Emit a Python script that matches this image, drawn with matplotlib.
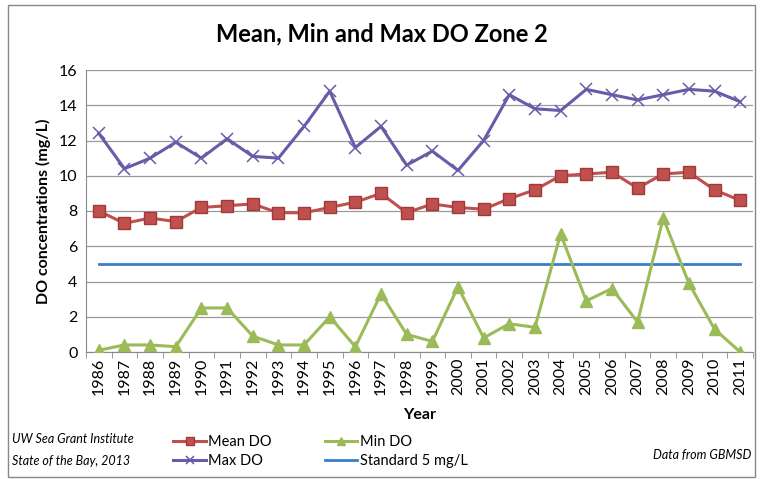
import matplotlib.pyplot as plt
from matplotlib.patches import Rectangle
import numpy as np

years = [str(y) for y in range(1986, 2012)]
mean_do = [8.0, 7.3, 7.6, 7.4, 8.2, 8.3, 8.4, 7.9, 7.9, 8.2, 8.5, 9.0, 7.9,
           8.4, 8.2, 8.1, 8.7, 9.2, 10.0, 10.1, 10.2, 9.3, 10.1, 10.2, 9.2, 8.6]
max_do = [12.4, 10.4, 11.0, 11.9, 11.0, 12.1, 11.1, 11.0, 12.8, 14.8, 11.6, 12.8, 10.6,
          11.4, 10.3, 12.0, 14.6, 13.8, 13.7, 14.9, 14.6, 14.3, 14.6, 14.9, 14.8, 14.2]
min_do = [0.1, 0.4, 0.4, 0.3, 2.5, 2.5, 0.9, 0.4, 0.4, 2.0, 0.3, 3.3, 1.0,
          0.6, 3.7, 0.8, 1.6, 1.4, 6.7, 2.9, 3.6, 1.7, 7.6, 3.9, 1.3, 0.0]
standard = [5] * len(years)

plt.rcParams['font.family'] = ['Lato', 'DejaVu Sans']

fig = plt.figure(figsize=(7.63, 4.79), dpi=100)
ax = fig.add_axes([86 / 763, 1 - 352 / 479, 667 / 763, 282 / 479])

x = np.arange(len(years))
l_mean, = ax.plot(x, mean_do, color='#C0504D', lw=2.2, marker='s', ms=8,
                  mfc='#C0504D', mec='#9E3A38', label='Mean DO', zorder=4)
l_max, = ax.plot(x, max_do, color='#6A5AA8', lw=2.2, marker='x', ms=8, mew=1.1,
                 label='Max DO', zorder=4)
l_min, = ax.plot(x, min_do, color='#9BBB59', lw=2.2, marker='^', ms=8,
                 mfc='#9BBB59', label='Min DO', zorder=4)
l_std, = ax.plot(x, standard, color='#3A7DC9', lw=2, label='Standard 5 mg/L', zorder=3)

ax.set_xlim(-0.5, len(years) - 0.5)
ax.set_ylim(0, 16)
ax.set_yticks(range(0, 17, 2))
ax.yaxis.grid(True, color='#9a9a9a', lw=0.9)
ax.set_axisbelow(True)
ax.set_xticks(x)
ax.set_xticklabels(years, rotation=90, fontsize=11.5)
ax.set_xticks(np.arange(-0.5, len(years), 1), minor=True)
ax.tick_params(axis='x', which='major', length=0, pad=4)
ax.tick_params(axis='x', which='minor', length=4, color='#888888', direction='out')
ax.tick_params(axis='y', length=0, labelsize=11.5, pad=6)
for s in ['top', 'right']:
    ax.spines[s].set_visible(False)
for s in ['left', 'bottom']:
    ax.spines[s].set_color('#888888')

ax.set_ylabel('DO concentrations (mg/L)', fontsize=11.5, fontweight='bold', labelpad=6)
ax.set_xlabel('Year', fontsize=11.5, fontweight='bold', labelpad=9)
fig.text(0.5, 0.93, 'Mean, Min and Max DO Zone 2', ha='center', va='center',
         fontsize=17, fontweight='bold')

fig.legend(handles=[l_mean, l_max, l_min, l_std], loc='center', ncol=2,
           bbox_to_anchor=(0.42, 0.058), frameon=False, fontsize=10.5,
           handlelength=2.2, handletextpad=0.2, columnspacing=3.6,
           labelspacing=0.35, markerscale=0.7)

fig.text(0.016, 0.083, 'UW Sea Grant Institute', fontsize=9, style='italic', va='center')
fig.text(0.016, 0.038, 'State of the Bay, 2013', fontsize=9, style='italic', va='center')
fig.text(0.985, 0.05, 'Data from GBMSD', fontsize=9, style='italic', va='center', ha='right')

fig.patches.append(Rectangle((0.01, 0.005), 0.98, 0.985, transform=fig.transFigure,
                             fill=False, edgecolor='#888888', lw=1))

fig.savefig('out.png', dpi=100)
